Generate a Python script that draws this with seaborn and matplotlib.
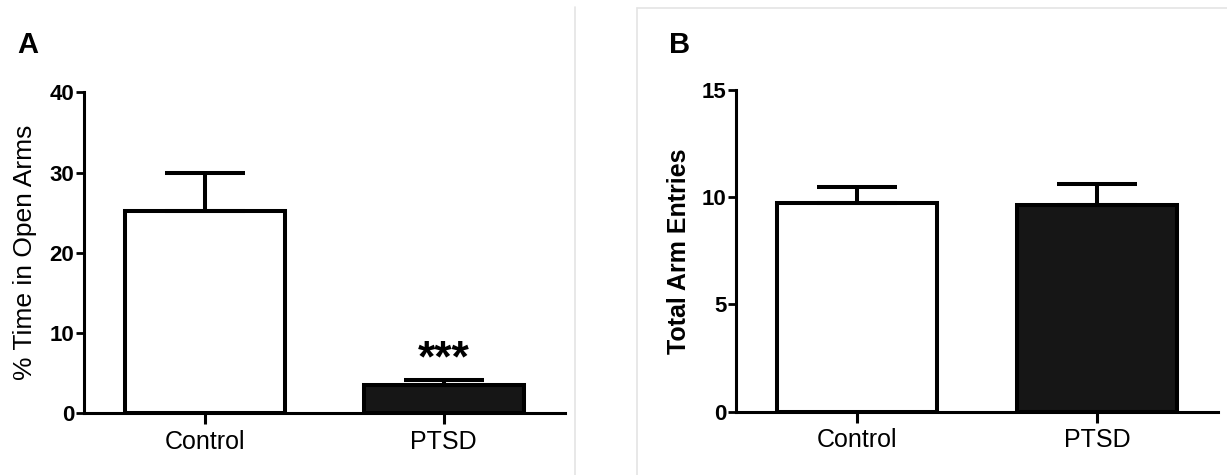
import matplotlib
matplotlib.use("Agg")
import matplotlib.pyplot as plt
from matplotlib.lines import Line2D
import seaborn as sns
import pandas as pd
import numpy as np

# ---- data ----
groups = ["Control", "PTSD"]
open_arms_mean = [25.2, 3.5]
open_arms_sem = [4.8, 0.65]
arm_entries_mean = [9.72, 9.64]
arm_entries_sem = [0.77, 0.97]
bar_colors = ["white", "#161616"]

sns.set_style("ticks")
plt.rcParams["font.family"] = ["Liberation Sans", "DejaVu Sans"]
plt.rcParams["text.color"] = "black"
plt.rcParams["axes.labelcolor"] = "black"

fig = plt.figure(figsize=(12.27, 4.75), dpi=100)
W, H = 1227, 475

def px_axes(left, right, top, bottom):
    return fig.add_axes([left / W, 1 - bottom / H, (right - left) / W, (bottom - top) / H])

axA = px_axes(84, 565, 92.3, 413.3)
axB = px_axes(736, 1218, 90, 411.7)

def draw(ax, means, sems, ymax, yticks, xlim):
    df = pd.DataFrame({"group": groups, "value": means})
    sns.barplot(data=df, x="group", y="value", hue="group", palette=bar_colors,
                legend=False, width=0.67, edgecolor="black", linewidth=2.9,
                errorbar=None, ax=ax, zorder=2)
    ax.errorbar(x=np.arange(len(groups)), y=means,
                yerr=[np.zeros(len(sems)), sems], fmt="none", ecolor="black",
                elinewidth=2.9, capsize=29, capthick=2.9, zorder=3)
    ax.set_ylim(0, ymax)
    ax.set_xlim(*xlim)
    ax.set_yticks(yticks)
    ax.set_yticklabels([str(t) for t in yticks], fontsize=16, fontweight="bold")
    ax.set_xticks(range(len(groups)))
    ax.set_xticklabels(groups, fontsize=18)
    ax.set_xlabel("")
    for s in ["top", "right"]:
        ax.spines[s].set_visible(False)
    for s in ["left", "bottom"]:
        ax.spines[s].set_linewidth(2.2)
        ax.spines[s].set_color("black")
    ax.tick_params(axis="y", direction="out", length=6, width=2.0, pad=1, colors="black")
    ax.tick_params(axis="x", direction="out", length=8, width=2.2, pad=4, colors="black")
    ax.set_facecolor("none")

draw(axA, open_arms_mean, open_arms_sem, 40, [0, 10, 20, 30, 40], (-0.506, 1.508))
draw(axB, arm_entries_mean, arm_entries_sem, 15, [0, 5, 10, 15], (-0.504, 1.504))

axA.set_ylabel("% Time in Open Arms", fontsize=19, color="black")
axA.yaxis.set_label_coords(-0.098, 0.5)
axB.set_ylabel("Total Arm Entries", fontsize=18, fontweight="bold", color="black")
axB.yaxis.set_label_coords(-0.093, 0.5)

# significance marker
axA.text(1, 6.6, "***", ha="center", va="center", fontsize=32, fontweight="bold", color="black")

# panel letters
fig.text(17 / W, 1 - 53 / H, "A", fontsize=21, fontweight="bold", ha="left", va="baseline")
fig.text(669 / W, 1 - 53 / H, "B", fontsize=21, fontweight="bold", ha="left", va="baseline")

# faint panel separators
fig.add_artist(Line2D([575 / W, 575 / W], [0, 1 - 7 / H], color="#e4e4e4", linewidth=1.2))
fig.add_artist(Line2D([637 / W, 637 / W], [0, 1 - 8 / H], color="#e4e4e4", linewidth=1.2))
fig.add_artist(Line2D([637 / W, 1], [1 - 8 / H, 1 - 8 / H], color="#e4e4e4", linewidth=1.2))

fig.savefig("out.png", dpi=100, facecolor="white")
